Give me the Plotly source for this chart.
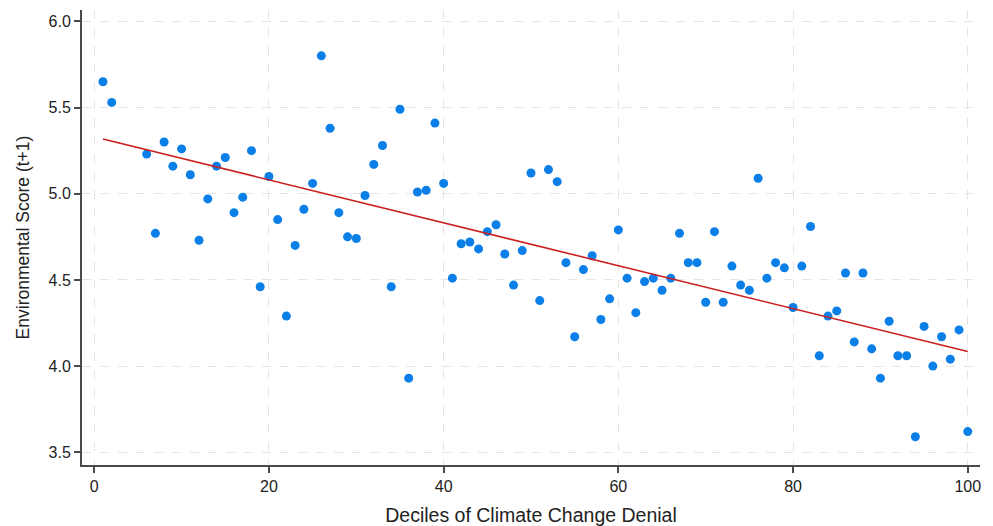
import plotly.graph_objects as go

deciles = [1, 2, 6, 7, 8, 9, 10, 11, 12, 13, 14, 15, 16, 17, 18, 19, 20,
           21, 22, 23, 24, 25, 26, 27, 28, 29, 30, 31, 32, 33, 34, 35, 36, 37, 38, 39, 40,
           41, 42, 43, 44, 45, 46, 47, 48, 49, 50, 51, 52, 53, 54, 55, 56, 57, 58, 59, 60,
           61, 62, 63, 64, 65, 66, 67, 68, 69, 70, 71, 72, 73, 74, 75, 76, 77, 78, 79, 80,
           81, 82, 83, 84, 85, 86, 87, 88, 89, 90, 91, 92, 93, 94, 95, 96, 97, 98, 99, 100]

env_score = [5.65, 5.53, 5.23, 4.77, 5.30, 5.16, 5.26, 5.11, 4.73, 4.97, 5.16, 5.21, 4.89, 4.98, 5.25, 4.46, 5.10,
             4.85, 4.29, 4.70, 4.91, 5.06, 5.80, 5.38, 4.89, 4.75, 4.74, 4.99, 5.17, 5.28, 4.46, 5.49, 3.93, 5.01, 5.02, 5.41, 5.06,
             4.51, 4.71, 4.72, 4.68, 4.78, 4.82, 4.65, 4.47, 4.67, 5.12, 4.38, 5.14, 5.07, 4.60, 4.17, 4.56, 4.64, 4.27, 4.39, 4.79,
             4.51, 4.31, 4.49, 4.51, 4.44, 4.51, 4.77, 4.60, 4.60, 4.37, 4.78, 4.37, 4.58, 4.47, 4.44, 5.09, 4.51, 4.60, 4.57, 4.34,
             4.58, 4.81, 4.06, 4.29, 4.32, 4.54, 4.14, 4.54, 4.10, 3.93, 4.26, 4.06, 4.06, 3.59, 4.23, 4.00, 4.17, 4.04, 4.21, 3.62]

# fitted linear trend (as drawn in the original), endpoints
fit_x = [1, 100]
fit_y = [5.317, 4.084]

x_ticks = [0, 20, 40, 60, 80, 100]
y_ticks = [3.5, 4.0, 4.5, 5.0, 5.5, 6.0]
y_tick_labels = ["3.5", "4.0", "4.5", "5.0", "5.5", "6.0"]

fig = go.Figure()
fig.add_trace(go.Scatter(
    x=deciles, y=env_score, mode="markers",
    marker=dict(color="#0b7fe8", size=9, line=dict(width=0)),
    showlegend=False, hoverinfo="x+y"))
fig.add_trace(go.Scatter(
    x=fit_x, y=fit_y, mode="lines",
    line=dict(color="#cc1f1f", width=1.6),
    showlegend=False))

font_family = "Liberation Sans, Arial, sans-serif"
axis_common = dict(
    showgrid=True, gridcolor="#e4e4e4", griddash="dash", gridwidth=1,
    showline=True, linecolor="#4a4a4a", linewidth=2,
    ticks="outside", ticklen=6, tickwidth=1.5, tickcolor="#4a4a4a",
    tickfont=dict(size=16, color="#222222"),
    zeroline=False, automargin=False,
)
fig.update_layout(
    width=985, height=518,
    margin=dict(l=74, r=13, t=2, b=61),
    paper_bgcolor="white", plot_bgcolor="white",
    font=dict(family=font_family, color="#222222", size=16),
    xaxis=dict(
        range=[-1.4, 101.4], tickmode="array", tickvals=x_ticks,
        title=dict(text="Deciles of Climate Change Denial", font=dict(size=19.5, color="#222222"), standoff=15),
        **axis_common,
    ),
    yaxis=dict(
        range=[3.426, 6.066], tickmode="array", tickvals=y_ticks, ticktext=y_tick_labels,
        title=dict(text="Environmental Score (t+1)", font=dict(size=17.5, color="#222222"), standoff=14),
        **axis_common,
    ),
)

fig.write_html("out.html")
